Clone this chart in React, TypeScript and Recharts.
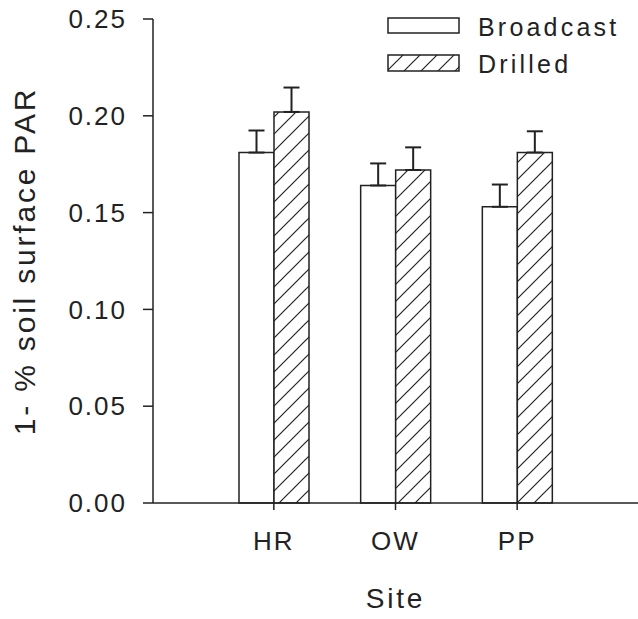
import { BarChart, Bar, XAxis, YAxis, Legend, ErrorBar } from "recharts";

const sites = ["HR", "OW", "PP"];
const broadcast = [0.181, 0.164, 0.153];
const drilled = [0.202, 0.172, 0.181];
const broadcastErr = [0.0114, 0.0114, 0.0115];
const drilledErr = [0.0126, 0.0117, 0.011];
const yTicks = [0, 0.05, 0.1, 0.15, 0.2, 0.25];

const INK = "#222";
const FONT = "'Liberation Sans', Arial, sans-serif";

const data = sites.map((site, i) => ({
  site,
  broadcast: broadcast[i],
  drilled: drilled[i],
  // one-sided error bars: only upward
  bErr: [0, broadcastErr[i]],
  dErr: [0, drilledErr[i]],
}));

function YTitle(props: any) {
  const vb = props.viewBox || { x: 0, y: 19, width: 153, height: 484 };
  const x = vb.x + 35;
  const y = vb.y + vb.height / 2;
  return (
    <text
      x={x}
      y={y}
      transform={`rotate(-90 ${x} ${y})`}
      textAnchor="middle"
      fontSize={30}
      letterSpacing={2.8}
      fill={INK}
      fontFamily={FONT}
    >
      1- % soil surface PAR
    </text>
  );
}

function XTitle(props: any) {
  const vb = props.viewBox || { x: 153, y: 503, width: 485, height: 116 };
  return (
    <text
      x={vb.x + vb.width / 2}
      y={vb.y + 105}
      textAnchor="middle"
      fontSize={28}
      letterSpacing={2.8}
      fill={INK}
      fontFamily={FONT}
    >
      Site
    </text>
  );
}

function LegendBox() {
  return (
    <svg width={250} height={70}>
      <defs>
        <pattern id="hatchLegend" width="17" height="17" patternUnits="userSpaceOnUse">
          <path d="M0,17 L17,0 M-4,4 L4,-4 M13,21 L21,13" stroke={INK} strokeWidth={1.2} />
        </pattern>
      </defs>
      <rect x={8} y={8} width={71} height={15} fill="#fff" stroke={INK} strokeWidth={1.5} />
      <text x={98} y={26} fontSize={25} letterSpacing={3.2} fill={INK} fontFamily={FONT}>
        Broadcast
      </text>
      <rect x={8} y={45} width={71} height={16} fill="url(#hatchLegend)" stroke={INK} strokeWidth={1.5} />
      <text x={98} y={63} fontSize={25} letterSpacing={3.2} fill={INK} fontFamily={FONT}>
        Drilled
      </text>
    </svg>
  );
}

export default function App() {
  const tickStyle = { fontSize: 26, fill: INK, fontFamily: FONT, letterSpacing: 2 };
  return (
    <div style={{ position: "absolute", left: 0, top: 0, background: "#fff" }}>
      <BarChart
        width={638}
        height={619}
        data={data}
        margin={{ top: 19, right: 0, bottom: 0, left: 0 }}
        barSize={35}
        barGap={0}
      >
        <defs>
          <pattern id="hatch" width="17" height="17" patternUnits="userSpaceOnUse">
            <rect width="17" height="17" fill="#fff" />
            <path d="M0,17 L17,0 M-4,4 L4,-4 M13,21 L21,13" stroke={INK} strokeWidth={1.2} />
          </pattern>
        </defs>
        <XAxis
          dataKey="site"
          height={116}
          padding={{ left: 60, right: 60 }}
          tickSize={7}
          tickMargin={22}
          tick={tickStyle}
          axisLine={{ stroke: INK, strokeWidth: 1.5 }}
          tickLine={{ stroke: INK, strokeWidth: 1.5 }}
          label={<XTitle />}
        />
        <YAxis
          width={153}
          domain={[0, 0.25]}
          ticks={yTicks}
          interval={0}
          tickFormatter={(v: number) => v.toFixed(2)}
          tickSize={10}
          tickMargin={16}
          tick={tickStyle}
          axisLine={{ stroke: INK, strokeWidth: 1.5 }}
          tickLine={{ stroke: INK, strokeWidth: 1.5 }}
          label={<YTitle />}
        />
        <Legend
          layout="horizontal"
          verticalAlign="middle"
          align="center"
          content={() => <LegendBox />}
          wrapperStyle={{ left: 380, top: 10, width: 250, height: 70 }}
        />
        <Bar dataKey="broadcast" name="Broadcast" fill="#fff" stroke={INK} strokeWidth={1.5} isAnimationActive={false}>
          <ErrorBar dataKey="bErr" direction="y" width={8} stroke={INK} strokeWidth={2} />
        </Bar>
        <Bar dataKey="drilled" name="Drilled" fill="url(#hatch)" stroke={INK} strokeWidth={1.5} isAnimationActive={false}>
          <ErrorBar dataKey="dErr" direction="y" width={8} stroke={INK} strokeWidth={2} />
        </Bar>
      </BarChart>
    </div>
  );
}
